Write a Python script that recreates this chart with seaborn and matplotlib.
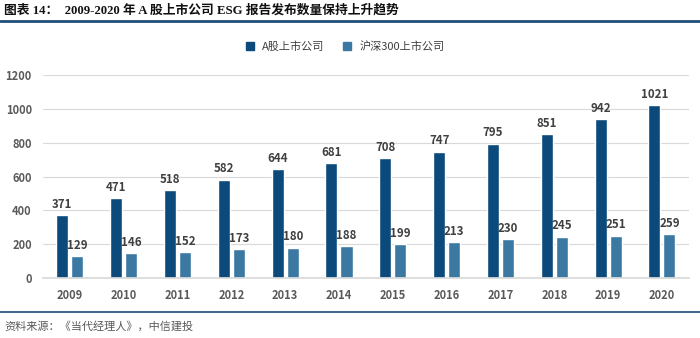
import matplotlib
matplotlib.use("Agg")
import matplotlib.pyplot as plt
import seaborn as sns
import pandas as pd
from matplotlib.lines import Line2D

years = ["2009", "2010", "2011", "2012", "2013", "2014", "2015", "2016", "2017", "2018", "2019", "2020"]
a_share = [371, 471, 518, 582, 644, 681, 708, 747, 795, 851, 942, 1021]
csi300 = [129, 146, 152, 173, 180, 188, 199, 213, 230, 245, 251, 259]
series_names = ["A股上市公司", "沪深300上市公司"]
colors = ["#0B4A7A", "#3B79A3"]

sns.set_theme(style="white")
plt.rcParams['font.family'] = ['Noto Sans CJK SC', 'DejaVu Sans']

df = pd.DataFrame({
    "year": years * 2,
    "value": a_share + csi300,
    "series": [series_names[0]] * len(years) + [series_names[1]] * len(years),
})

fig = plt.figure(figsize=(7.0, 3.38), dpi=100)
ax = fig.add_axes([0.0614, 0.1775, 0.9226, 0.6005])

sns.barplot(data=df, x="year", y="value", hue="series", palette=colors,
            width=0.56, gap=0.2, ax=ax, legend=False, saturation=1)

ax.set_ylim(0, 1200)
ax.set_yticks(range(0, 1201, 200))
ax.yaxis.grid(True, color="#D9D9D9", linewidth=0.8)
ax.set_axisbelow(True)
for s in ["top", "right", "left"]:
    ax.spines[s].set_visible(False)
ax.spines["bottom"].set_color("#D9D9D9")
ax.set_xlabel("")
ax.set_ylabel("")
ax.tick_params(axis="both", length=0, labelsize=8, labelcolor="#595959", pad=8)
for lab in ax.get_xticklabels() + ax.get_yticklabels():
    lab.set_fontweight("bold")
ax.set_xlim(-0.5, len(years) - 0.5)

for cont in ax.containers:
    ax.bar_label(cont, padding=3, fontsize=8.3, fontweight="bold", color="#404040")

# legend
handles = [Line2D([0], [0], marker="s", linestyle="", markersize=6,
                  markerfacecolor=c, markeredgecolor=c) for c in colors]
fig.legend(handles, series_names, loc="center", bbox_to_anchor=(0.488, 1 - 47 / 338),
           ncol=2, frameon=False, fontsize=8, labelcolor="#404040",
           handletextpad=0.1, columnspacing=1.0)

# title
fig.text(0.006, 1 - 10 / 338, "图表 14：  2009-2020 年 A 股上市公司 ESG 报告发布数量保持上升趋势",
         ha="left", va="center", fontsize=9.2, fontweight="bold", color="#111111",
         family=["Liberation Serif", "Noto Sans CJK SC"])
fig.add_artist(Line2D([0.0, 1.0], [1 - 21 / 338, 1 - 21 / 338], transform=fig.transFigure,
                      color="#1F4E79", linewidth=2))
fig.add_artist(Line2D([0.0, 1.0], [1 - 312 / 338, 1 - 312 / 338], transform=fig.transFigure,
                      color="#1F4E79", linewidth=1.2))
fig.text(0.006, 1 - 326 / 338, "资料来源：《当代经理人》，中信建投", ha="left", va="center",
         fontsize=8, color="#595959", style="italic")

fig.savefig("out.png", dpi=100)
